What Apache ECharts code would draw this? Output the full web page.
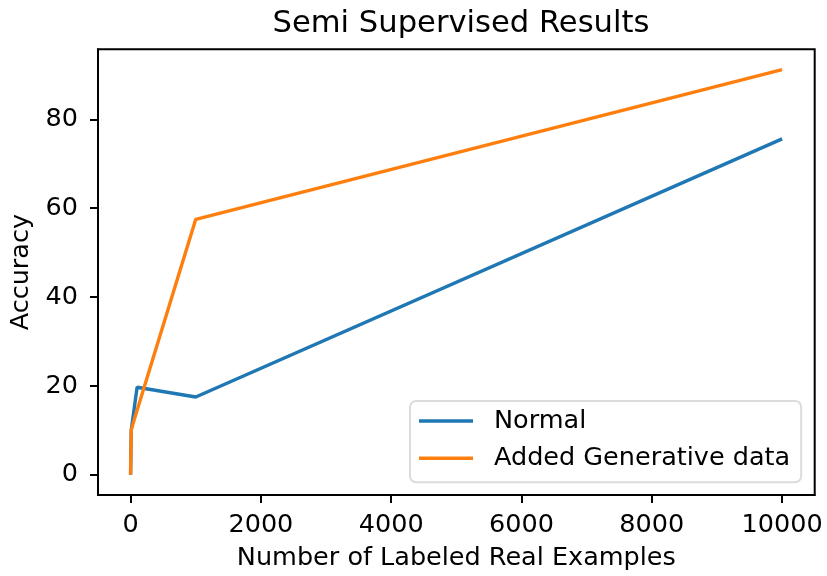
<!DOCTYPE html>
<html>
<head>
<meta charset="utf-8">
<script src="https://cdn.jsdelivr.net/npm/echarts@6/dist/echarts.min.js"></script>
<style>html,body{margin:0;padding:0;background:#fff;}#c{width:827px;height:576px;}</style>
</head>
<body>
<div id="c"></div>
<script>
const xValues = [0, 10, 100, 1000, 10000];
const normal = [0, 10, 19.7, 17.5, 75.6];
const addedGenerative = [0, 10.1, 14.5, 57.5, 91.2];
const xTicks = [0, 2000, 4000, 6000, 8000, 10000];
const yTicks = [0, 20, 40, 60, 80];

const FONT = 'DejaVu Sans';
const FS = 25.5;
const chart = echarts.init(document.getElementById('c'), null, {renderer: 'canvas'});
const axisCommon = {
  axisLine: {show: true, onZero: false, lineStyle: {color: '#000', width: 2}},
  splitLine: {show: false},
};
chart.setOption({
  animation: false,
  backgroundColor: '#fff',
  title: {
    text: 'Semi Supervised Results',
    left: 456, top: 4, textAlign: 'center',
    textStyle: {fontFamily: FONT, fontSize: 30.6, fontWeight: 'normal', color: '#000'}
  },
  grid: {left: 98, right: 12.3, top: 49.3, bottom: 80.7, show: true, borderColor: '#000', borderWidth: 2, backgroundColor: 'transparent'},
  xAxis: Object.assign({
    type: 'value', min: -500, max: 10500,
    name: 'Number of Labeled Real Examples', nameLocation: 'middle', nameGap: 50,
    nameTextStyle: {fontFamily: FONT, fontSize: FS, color: '#000'},
    axisTick: {show: true, inside: false, length: 8, lineStyle: {color: '#000', width: 2}, customValues: xTicks},
    axisLabel: {fontFamily: FONT, fontSize: FS, color: '#000', margin: 17, customValues: xTicks, formatter: v => String(v)}
  }, axisCommon),
  yAxis: Object.assign({
    type: 'value', min: -4.56, max: 95.76,
    name: 'Accuracy', nameLocation: 'middle', nameGap: 60, nameRotate: 90,
    nameTextStyle: {fontFamily: FONT, fontSize: FS, color: '#000'},
    axisTick: {show: true, inside: false, length: 8, lineStyle: {color: '#000', width: 2}, customValues: yTicks},
    axisLabel: {fontFamily: FONT, fontSize: FS, color: '#000', margin: 20, customValues: yTicks, formatter: v => String(v)}
  }, axisCommon),
  legend: {
    orient: 'vertical', left: 410, top: 401,
    backgroundColor: '#fff', borderColor: '#dcdcdc', borderWidth: 2, borderRadius: 6,
    padding: [6, 11, 10, 9],
    icon: 'rect', itemWidth: 54, itemHeight: 3.6, itemGap: 9.3,
    textStyle: {fontFamily: FONT, fontSize: FS, color: '#000', lineHeight: 28, padding: [0, 0, 0, 16]},
    data: ['Normal', 'Added Generative data']
  },
  series: [
    {name: 'Normal', type: 'line', symbol: 'none', lineStyle: {color: '#1f77b4', width: 3.4}, itemStyle: {color: '#1f77b4'},
     data: xValues.map((x, i) => [x, normal[i]])},
    {name: 'Added Generative data', type: 'line', symbol: 'none', lineStyle: {color: '#ff7f0e', width: 3.4}, itemStyle: {color: '#ff7f0e'},
     data: xValues.map((x, i) => [x, addedGenerative[i]])}
  ]
});
</script>
</body>
</html>
